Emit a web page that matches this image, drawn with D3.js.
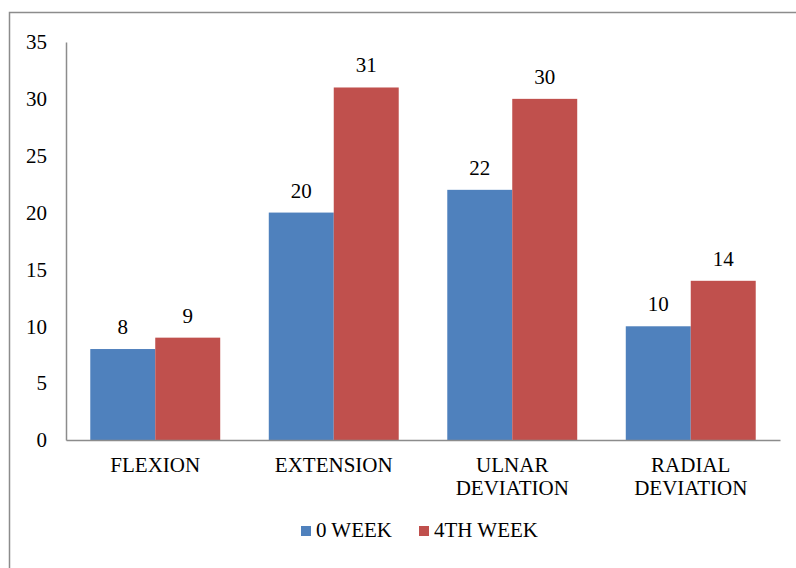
<!DOCTYPE html>
<html>
<head>
<meta charset="utf-8">
<script src="https://cdn.jsdelivr.net/npm/d3@7"></script>
<style>
  body { margin: 0; background: #fff; }
  svg { display: block; }
  svg text { font-family: "Liberation Serif", "Times New Roman", Tinos, "DejaVu Serif", serif !important; fill: #000; }
</style>
</head>
<body>
<svg id="chart" width="796" height="568"></svg>
<script>
const categories = ["FLEXION", "EXTENSION", "ULNAR DEVIATION", "RADIAL DEVIATION"];
const seriesNames = ["0 WEEK", "4TH WEEK"];
const week0 = [8, 20, 22, 10];
const week4 = [9, 31, 30, 14];
const yTicks = [0, 5, 10, 15, 20, 25, 30, 35];
const colors = ["#4F81BD", "#C0504D"];

const data = categories.map((c, i) => ({ cat: c, values: [week0[i], week4[i]] }));

const FONT = '"Liberation Serif", "Times New Roman", Tinos, "DejaVu Serif", serif';
const svg = d3.select("#chart").style("font-family", FONT);
const fs = 21;

// outer border (extends beyond right/bottom edges)
svg.append("rect")
  .attr("x", 9.5).attr("y", 12.5)
  .attr("width", 800).attr("height", 600)
  .attr("fill", "none").attr("stroke", "#8c8c8c").attr("stroke-width", 1.5);

const plot = { left: 66, right: 780, top: 42, bottom: 440 };

const y = d3.scaleLinear().domain([0, 35]).range([plot.bottom, plot.top]);
const x = d3.scaleBand().domain(categories).range([plot.left, plot.right])
  .paddingInner(0.272).paddingOuter(0.136);
const xs = d3.scaleBand().domain(seriesNames).range([0, x.bandwidth()]);

// bars
const groups = svg.append("g").selectAll("g").data(data).join("g")
  .attr("transform", d => `translate(${x(d.cat)},0)`);

groups.selectAll("rect").data(d => d.values.map((v, j) => ({ v, s: seriesNames[j], j })))
  .join("rect")
  .attr("x", d => xs(d.s))
  .attr("y", d => y(d.v))
  .attr("width", xs.bandwidth())
  .attr("height", d => y(0) - y(d.v))
  .attr("fill", d => colors[d.j]);

groups.selectAll("text.val").data(d => d.values.map((v, j) => ({ v, s: seriesNames[j] })))
  .join("text")
  .attr("class", "val")
  .attr("x", d => xs(d.s) + xs.bandwidth() / 2)
  .attr("y", d => y(d.v) - 15)
  .attr("text-anchor", "middle")
  .attr("font-size", fs)
  .text(d => d.v);

// y axis
const yAxis = d3.axisLeft(y).tickValues(yTicks).tickSize(0).tickPadding(19);
const yg = svg.append("g").attr("transform", `translate(${plot.left},0)`).call(yAxis)
  .attr("font-family", null).attr("font-size", fs);
yg.select(".domain").attr("stroke", "#8c8c8c").attr("stroke-width", 1.5);
yg.selectAll("text").attr("fill", "#000");

// x axis
const xAxis = d3.axisBottom(x).tickSize(0).tickFormat("");
const xg = svg.append("g").attr("transform", `translate(0,${plot.bottom})`).call(xAxis)
  .attr("font-family", null);
xg.select(".domain").attr("stroke", "#8c8c8c").attr("stroke-width", 1.5);

// category labels (wrapped)
const labels = svg.append("g").selectAll("text").data(categories).join("text")
  .attr("text-anchor", "middle")
  .attr("font-size", fs)
  .attr("x", d => x(d) + x.bandwidth() / 2)
  .attr("y", 472);
labels.each(function(d) {
  const words = d.split(" ");
  const t = d3.select(this);
  words.forEach((w, i) => {
    t.append("tspan").attr("x", x(d) + x.bandwidth() / 2).attr("dy", i === 0 ? 0 : 23).text(w);
  });
});

// legend
const legend = svg.append("g").attr("transform", "translate(301,526)");
const legX = [0, 118];
seriesNames.forEach((s, i) => {
  const g = legend.append("g").attr("transform", `translate(${legX[i]},0)`);
  g.append("rect").attr("width", 10).attr("height", 10).attr("fill", colors[i]);
  g.append("text").attr("x", 15).attr("y", 11).attr("font-size", fs).text(s);
});
</script>
</body>
</html>
